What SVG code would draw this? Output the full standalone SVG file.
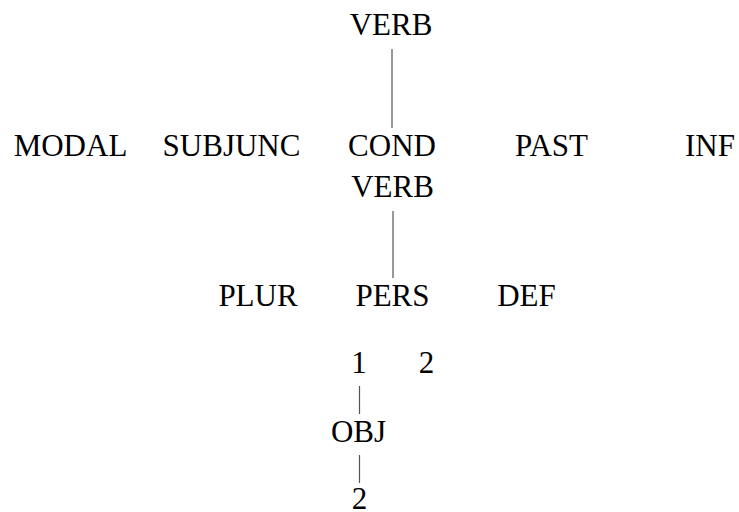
<svg xmlns="http://www.w3.org/2000/svg" width="739" height="512" viewBox="0 0 739 512">
<style>
.t{font-size:31px;fill:#000;text-anchor:middle}
line{stroke:#555;stroke-width:1.2}
</style>
<rect width="739" height="512" fill="#fff"/>
<g id="connectors">
<line x1="392" y1="49" x2="392" y2="128"/>
<line x1="393" y1="211" x2="393" y2="278"/>
<line x1="359.5" y1="386" x2="359.5" y2="414"/>
<line x1="359.5" y1="455" x2="359.5" y2="483"/>
</g>
<g font-family="Times New Roman, Liberation Serif, Tinos, Noto Serif, DejaVu Serif, FreeSerif, serif">
<g id="verb-top"><text class="t" x="391" y="35">VERB</text></g>
<g id="modal"><text class="t" x="70.5" y="156">MODAL</text></g>
<g id="subjunc"><text class="t" x="231.5" y="156">SUBJUNC</text></g>
<g id="cond"><text class="t" x="392" y="156">COND</text></g>
<g id="past"><text class="t" x="551.5" y="156">PAST</text></g>
<g id="inf"><text class="t" x="710" y="156">INF</text></g>
<g id="verb-2"><text class="t" x="392.5" y="196.5">VERB</text></g>
<g id="plur"><text class="t" x="258" y="306">PLUR</text></g>
<g id="pers"><text class="t" x="392.5" y="306">PERS</text></g>
<g id="def"><text class="t" x="526.5" y="306">DEF</text></g>
<g id="n1"><text class="t" x="359" y="372.5">1</text></g>
<g id="n2"><text class="t" x="426.5" y="372.5">2</text></g>
<g id="obj"><text class="t" x="358.5" y="441.5">OBJ</text></g>
<g id="n2b"><text class="t" x="359.5" y="509">2</text></g>
</g>
</svg>
